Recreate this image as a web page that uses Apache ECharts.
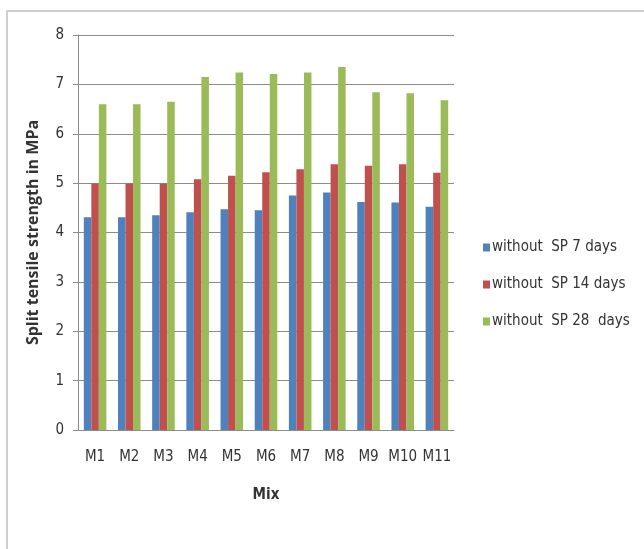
<!DOCTYPE html>
<html>
<head>
<meta charset="utf-8">
<script src="https://cdn.jsdelivr.net/npm/echarts@6/dist/echarts.min.js"></script>
<style>
html,body{margin:0;padding:0;background:#fff;}
#chart{width:644px;height:549px;}
</style>
</head>
<body>
<div id="chart"></div>
<script>
var categories = ['M1','M2','M3','M4','M5','M6','M7','M8','M9','M10','M11'];
var seriesNames = ['without  SP 7 days','without  SP 14 days','without  SP 28  days'];
var sp7 = [4.31,4.31,4.35,4.41,4.47,4.45,4.75,4.81,4.62,4.61,4.52];
var sp14 = [4.99,4.99,4.99,5.08,5.15,5.22,5.28,5.38,5.35,5.38,5.21];
var sp28 = [6.60,6.60,6.65,7.15,7.24,7.21,7.24,7.35,6.84,6.82,6.68];
var yTicks = [0,1,2,3,4,5,6,7,8];

var FONT = '"Liberation Sans Narrow","Arial Narrow","DejaVu Sans Condensed",sans-serif';
var colors = ['#4f81bd','#c0504d','#9bbb59'];

var chart = echarts.init(document.getElementById('chart'), null, {renderer:'canvas'});
var values = [sp7, sp14, sp28];
chart.setOption({
  animation:false,
  color: colors,
  graphic:[{
    type:'rect', shape:{x:7,y:11,width:700,height:600},
    style:{fill:'none',stroke:'#cfcfcf',lineWidth:2}, silent:true, z:-1
  }],
  grid:{left:78,right:190,top:35,bottom:119,containLabel:false},
  legend:{
    orient:'vertical', left:478, top:235, itemGap:22,
    itemWidth:7, itemHeight:8, icon:'rect',
    textStyle:{fontFamily:FONT,fontSize:15,color:'#333',padding:[0,0,0,-3]},
    data: seriesNames
  },
  xAxis:{
    type:'category', data:categories,
    name:'Mix', nameLocation:'middle', nameGap:58,
    nameTextStyle:{fontFamily:FONT,fontSize:15,fontWeight:'bold',color:'#333'},
    axisLine:{lineStyle:{color:'#8c8c8c',width:1}},
    axisTick:{show:false},
    axisLabel:{fontFamily:FONT,fontSize:15,color:'#333',margin:20,interval:0}
  },
  yAxis:{
    type:'value', min:0, max:8, interval:1,
    name:'Split tensile strength in MPa', nameLocation:'middle', nameGap:37,
    nameRotate:90,
    nameTextStyle:{fontFamily:'"Open Sans",sans-serif',fontSize:16,fontWeight:'bold',color:'#333'},
    axisLine:{show:true,lineStyle:{color:'#8c8c8c',width:1}},
    axisTick:{show:true,length:5,lineStyle:{color:'#8c8c8c'}},
    splitLine:{lineStyle:{color:'#8c8c8c',width:1}},
    axisLabel:{fontFamily:FONT,fontSize:15,color:'#333',margin:14,
      formatter:function(v){return yTicks.indexOf(v)>=0?String(v):'';}}
  },
  series: seriesNames.map(function(n,i){
    return {name:n,type:'bar',data:values[i],barGap:0,barCategoryGap:'34%'};
  })
});
</script>
</body>
</html>
